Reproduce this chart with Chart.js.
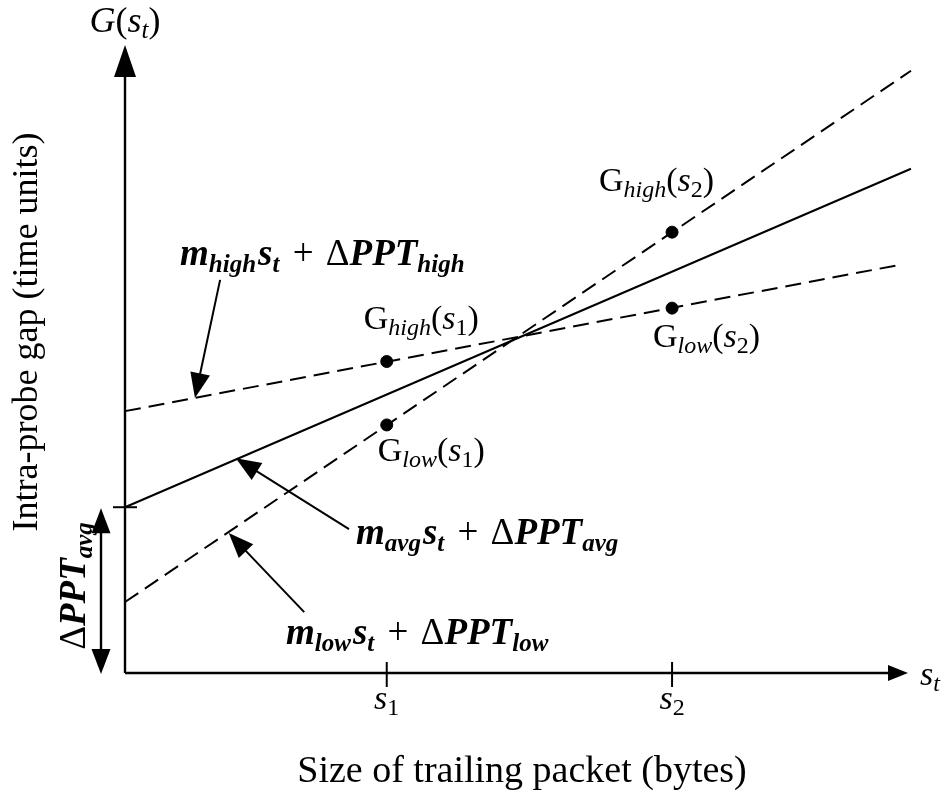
<!DOCTYPE html>
<html>
<head>
<meta charset="utf-8">
<script src="https://cdn.jsdelivr.net/npm/chart.js@4/dist/chart.umd.min.js"></script>
<style>
  html, body { margin: 0; padding: 0; background: #fff; }
  canvas { display: block; }
</style>
</head>
<body>
<canvas id="c" width="951" height="795"></canvas>
<script>
// Axis extents (arbitrary units)
const X_MAX = 100;
const Y_MAX = 100;

// Marked packet sizes on the x axis
const S_TICKS = [33.3, 69.6];
const S_TICK_SUBS = ['1', '2'];

// Fitted lines: end points (x, y)
const AVG_X = [0, 100];
const AVG_Y = [26.4, 80.3];
const LOW_X = [0, 100];
const LOW_Y = [11.3, 95.9];
const HIGH_X = [0, 98.6];
const HIGH_Y = [41.7, 65.0];

// Measured gaps G(s1), G(s2)
const PT_X = [33.3, 33.3, 69.6, 69.6];
const PT_Y = [49.6, 39.5, 70.2, 58.1];
const PT_SUB = ['high', 'low', 'high', 'low'];
const PT_S = ['1', '1', '2', '2'];

const toXY = (xs, ys) => xs.map((x, i) => ({ x, y: ys[i] }));

const SERIF = '"Liberation Serif", "Times New Roman", serif';
const F = (style, size) => `${style} ${size}px ${SERIF}`;
const BI = F('bold italic', 37), BIs = F('bold italic', 25);
const R37 = F('normal', 37);
const R34 = F('normal', 34), R24 = F('normal', 24);
const I34 = F('italic', 34), I24 = F('italic', 24);

function rich(ctx, x, y, parts, align) {
  let w = 0;
  parts.forEach(p => { ctx.font = p.f; p.w = ctx.measureText(p.t).width + (p.gap || 0); w += p.w; });
  let cx = align === 'center' ? x - w / 2 : x;
  ctx.textAlign = 'left';
  ctx.textBaseline = 'alphabetic';
  parts.forEach(p => { ctx.font = p.f; ctx.fillText(p.t, cx, y + (p.dy || 0)); cx += p.w; });
}

function eqParts(sub) {
  return [
    { t: 'm', f: BI }, { t: sub, f: BIs, dy: 7, gap: 2 },
    { t: 's', f: BI }, { t: 't', f: BIs, dy: 7, gap: 4 },
    { t: ' + ', f: R37, gap: 3 }, { t: '\u0394', f: R37 },
    { t: 'PPT', f: BI }, { t: sub, f: BIs, dy: 7 }
  ];
}

function gParts(sub, n) {
  return [
    { t: 'G', f: R34 }, { t: sub, f: I24, dy: 6 },
    { t: '(', f: R34 }, { t: 's', f: I34 }, { t: n, f: R24, dy: 6 },
    { t: ')', f: R34 }
  ];
}

function arrowHead(ctx, x1, y1, x2, y2, len, half) {
  const a = Math.atan2(y2 - y1, x2 - x1);
  ctx.beginPath();
  ctx.moveTo(x2, y2);
  ctx.lineTo(x2 - len * Math.cos(a) + half * Math.sin(a), y2 - len * Math.sin(a) - half * Math.cos(a));
  ctx.lineTo(x2 - len * Math.cos(a) - half * Math.sin(a), y2 - len * Math.sin(a) + half * Math.cos(a));
  ctx.closePath();
  ctx.fill();
}

function arrow(ctx, x1, y1, x2, y2, len, half, lw) {
  const a = Math.atan2(y2 - y1, x2 - x1);
  ctx.lineWidth = lw;
  ctx.setLineDash([]);
  ctx.beginPath();
  ctx.moveTo(x1, y1);
  ctx.lineTo(x2 - (len - 2) * Math.cos(a), y2 - (len - 2) * Math.sin(a));
  ctx.stroke();
  arrowHead(ctx, x1, y1, x2, y2, len, half);
}

const decor = {
  id: 'decor',
  afterDatasetsDraw(chart) {
    const ctx = chart.ctx;
    const xs = chart.scales.x, ys = chart.scales.y;
    const px = v => xs.getPixelForValue(v), py = v => ys.getPixelForValue(v);
    ctx.save();
    ctx.fillStyle = '#000';
    ctx.strokeStyle = '#000';

    const x0 = px(0), y0 = py(0);
    // axes with arrow heads
    arrow(ctx, x0, y0, x0, py(Y_MAX), 32, 11, 2.4);
    arrow(ctx, x0, y0, px(X_MAX) - 3, y0, 20, 8, 2.4);

    // ticks on the x axis
    ctx.lineWidth = 2;
    S_TICKS.forEach((s, i) => {
      ctx.beginPath();
      ctx.moveTo(px(s), y0 - 11);
      ctx.lineTo(px(s), y0 + 14);
      ctx.stroke();
      rich(ctx, px(s), y0 + 36, [{ t: 's', f: I34 }, { t: S_TICK_SUBS[i], f: R24, dy: 6 }], 'center');
    });

    // intercept tick for the average line
    const yi = py(AVG_Y[0]);
    ctx.beginPath();
    ctx.moveTo(x0 - 12, yi);
    ctx.lineTo(x0 + 12, yi);
    ctx.stroke();

    // double arrow spanning the average intercept
    const xa = x0 - 24;
    ctx.lineWidth = 2.4;
    ctx.beginPath();
    ctx.moveTo(xa, yi + 20);
    ctx.lineTo(xa, y0 - 20);
    ctx.stroke();
    arrowHead(ctx, xa, y0, xa, yi + 1, 25, 9.5);
    arrowHead(ctx, xa, yi, xa, y0 + 1, 25, 9.5);

    // rotated ΔPPT_avg label
    ctx.save();
    ctx.translate(85, 586);
    ctx.rotate(-Math.PI / 2);
    rich(ctx, 0, 0, [
      { t: '\u0394', f: R37 }, { t: 'PPT', f: BI }, { t: 'avg', f: BIs, dy: 7 }
    ], 'center');
    ctx.restore();

    // axis captions
    rich(ctx, x0, 32, [
      { t: 'G', f: F('italic', 36) }, { t: '(', f: F('normal', 36) }, { t: 's', f: F('italic', 36) },
      { t: 't', f: F('italic', 25), dy: 6 }, { t: ')', f: F('normal', 36) }
    ], 'center');
    rich(ctx, 920, 685, [{ t: 's', f: I34 }, { t: 't', f: I24, dy: 6 }]);

    ctx.font = F('normal', 38);
    ctx.textAlign = 'center';
    ctx.textBaseline = 'alphabetic';
    ctx.fillText('Size of trailing packet (bytes)', 522, 782);
    ctx.font = F('normal', 36);
    ctx.save();
    ctx.translate(37, 332);
    ctx.rotate(-Math.PI / 2);
    ctx.fillText('Intra-probe gap (time units)', 0, 0);
    ctx.restore();

    // point labels
    const off = [[-23, -33], [-9, 36], [-73, -41], [-19, 39]];
    PT_X.forEach((x, i) => {
      rich(ctx, px(x) + off[i][0], py(PT_Y[i]) + off[i][1], gParts(PT_SUB[i], PT_S[i]));
    });

    // line equations with pointer arrows
    ctx.setLineDash([]);
    rich(ctx, 180, 265, eqParts('high'));
    arrow(ctx, px(12.1), py(62.6), px(8.9), py(43.8), 25, 10, 2);
    rich(ctx, 356, 544, eqParts('avg'));
    arrow(ctx, px(28.5), py(22.9), px(14.1), py(34.2), 25, 10, 2);
    rich(ctx, 286, 644, eqParts('low'));
    arrow(ctx, px(22.8), py(9.7), px(13.2), py(22.3), 25, 10, 2);

    ctx.restore();
  }
};

Chart.defaults.font.family = SERIF;

new Chart(document.getElementById('c'), {
  type: 'scatter',
  data: {
    datasets: [
      { data: toXY(AVG_X, AVG_Y), showLine: true, borderColor: '#000', borderWidth: 2, pointRadius: 0, clip: false },
      { data: toXY(LOW_X, LOW_Y), showLine: true, borderColor: '#000', borderWidth: 2, borderDash: [16, 8], pointRadius: 0, clip: false },
      { data: toXY(HIGH_X, HIGH_Y), showLine: true, borderColor: '#000', borderWidth: 2, borderDash: [16, 8], pointRadius: 0, clip: false },
      { data: toXY(PT_X, PT_Y), showLine: false, backgroundColor: '#000', borderColor: '#000', pointRadius: 6, clip: false }
    ]
  },
  options: {
    responsive: false,
    animation: false,
    devicePixelRatio: 1,
    layout: { padding: { left: 125, right: 40, top: 45, bottom: 122 } },
    plugins: { legend: { display: false }, tooltip: { enabled: false } },
    scales: {
      x: { type: 'linear', min: 0, max: X_MAX, display: false },
      y: { type: 'linear', min: 0, max: Y_MAX, display: false }
    }
  },
  plugins: [decor]
});
</script>
</body>
</html>
